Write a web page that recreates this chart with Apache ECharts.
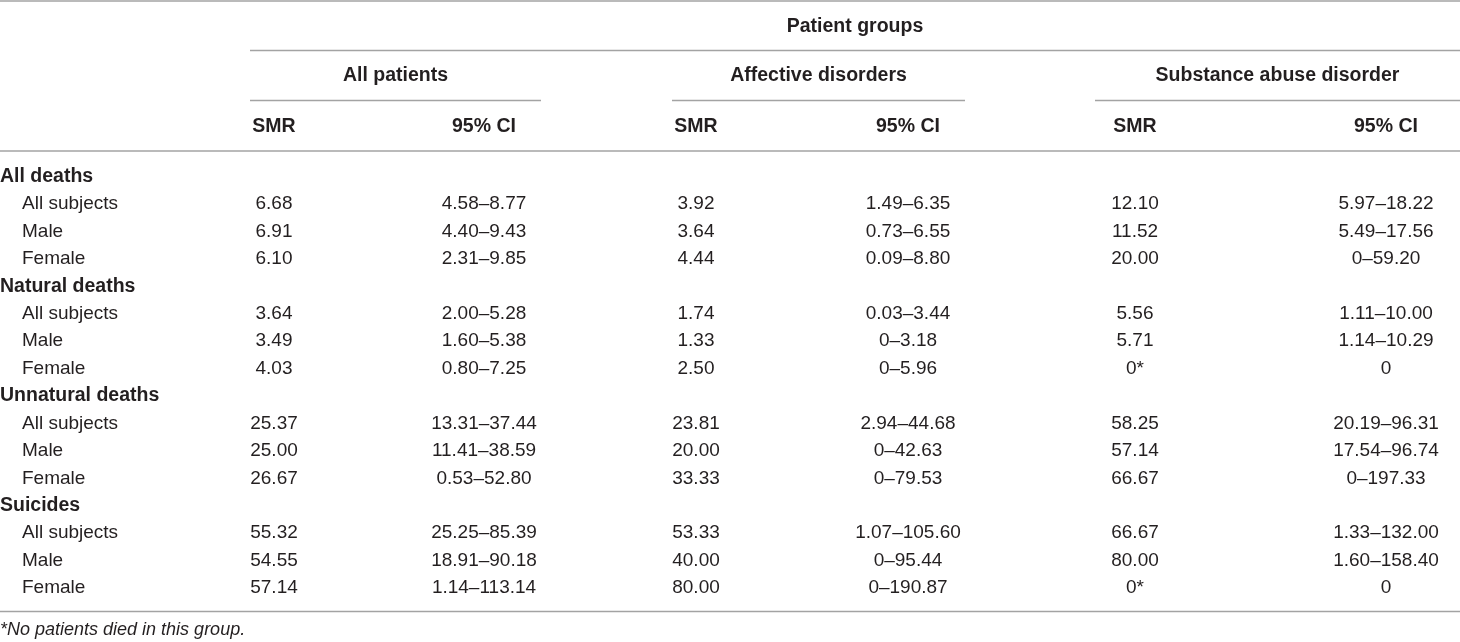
<!DOCTYPE html>
<html>
<head>
<meta charset="utf-8">
<title>SMR by patient group</title>
<script src="https://cdn.jsdelivr.net/npm/echarts@6.0.0/dist/echarts.min.js"></script>
<style>
	html, body { margin: 0; padding: 0; background: #fff; }
	#main { width: 1460px; height: 642px; }
</style>
</head>
<body>
<div id="main"></div>
<script>
// ---- table data ----
var groupTitle = 'Patient groups';
var groups = ['All patients', 'Affective disorders', 'Substance abuse disorder'];
var colHeads = ['SMR', '95% CI'];
var causes = ['All deaths', 'Natural deaths', 'Unnatural deaths', 'Suicides'];
var subjects = ['All subjects', 'Male', 'Female'];
var footnote = '*No patients died in this group.';

// one value per cause x subject row, 0 = nobody died in that group
var smrAll = [6.68, 6.91, 6.10, 3.64, 3.49, 4.03, 25.37, 25.00, 26.67, 55.32, 54.55, 57.14];
var ciAll = [[4.58, 8.77], [4.40, 9.43], [2.31, 9.85], [2.00, 5.28], [1.60, 5.38], [0.80, 7.25],
	[13.31, 37.44], [11.41, 38.59], [0.53, 52.80], [25.25, 85.39], [18.91, 90.18], [1.14, 113.14]];
var smrAffective = [3.92, 3.64, 4.44, 1.74, 1.33, 2.50, 23.81, 20.00, 33.33, 53.33, 40.00, 80.00];
var ciAffective = [[1.49, 6.35], [0.73, 6.55], [0.09, 8.80], [0.03, 3.44], [0, 3.18], [0, 5.96],
	[2.94, 44.68], [0, 42.63], [0, 79.53], [1.07, 105.60], [0, 95.44], [0, 190.87]];
var smrSubstance = [12.10, 11.52, 20.00, 5.56, 5.71, 0, 58.25, 57.14, 66.67, 66.67, 80.00, 0];
var ciSubstance = [[5.97, 18.22], [5.49, 17.56], [0, 59.20], [1.11, 10.00], [1.14, 10.29], [0, 0],
	[20.19, 96.31], [17.54, 96.74], [0, 197.33], [1.33, 132.00], [1.60, 158.40], [0, 0]];

var smrByGroup = [smrAll, smrAffective, smrSubstance];
var ciByGroup = [ciAll, ciAffective, ciSubstance];

// ---- layout (axis units = page pixels) ----
var W = 1460, H = 642;
var ROW0 = 176.7, ROW_H = 27.42;
var LABEL_X = 0, SUB_X = 22;
var cols = [
	{ smr: 274, ci: 484, x0: 250, x1: 541 },
	{ smr: 696, ci: 908, x0: 672, x1: 965 },
	{ smr: 1135, ci: 1386, x0: 1095, x1: 1460 }
];
var Y_TITLE = 27, Y_GROUP = 76, Y_HEAD = 127, Y_NOTE = 630;
var FONT = '"Liberation Sans", Arial, sans-serif';
var INK = '#231f20';

function fmt(v) {
	return v === 0 ? '0' : v.toFixed(2);
}
function fmtSmr(v) {
	return v === 0 ? '0*' : v.toFixed(2);
}
function fmtCi(c) {
	if(c[1] === 0) return '0';
	return fmt(c[0]) + '\u2013' + fmt(c[1]);
}
function rowY(i) {
	return ROW0 + i * ROW_H;
}

// build the text items of each style
var boldPts = [], boldTxt = [], boldAlign = [];
var plainPts = [], plainTxt = [], plainAlign = [];

boldPts.push([(cols[0].x0 + W) / 2, Y_TITLE]); boldTxt.push(groupTitle); boldAlign.push('center');
for(var g = 0; g < groups.length; g++) {
	boldPts.push([(cols[g].x0 + cols[g].x1) / 2, Y_GROUP]); boldTxt.push(groups[g]); boldAlign.push('center');
	boldPts.push([cols[g].smr, Y_HEAD]); boldTxt.push(colHeads[0]); boldAlign.push('center');
	boldPts.push([cols[g].ci, Y_HEAD]); boldTxt.push(colHeads[1]); boldAlign.push('center');
}

var row = 0;
for(var k = 0; k < causes.length; k++) {
	boldPts.push([LABEL_X, rowY(row)]); boldTxt.push(causes[k]); boldAlign.push('left');
	row++;
	for(var j = 0; j < subjects.length; j++) {
		var idx = k * subjects.length + j;
		plainPts.push([SUB_X, rowY(row)]); plainTxt.push(subjects[j]); plainAlign.push('left');
		for(var g2 = 0; g2 < groups.length; g2++) {
			plainPts.push([cols[g2].smr, rowY(row)]); plainTxt.push(fmtSmr(smrByGroup[g2][idx])); plainAlign.push('center');
			plainPts.push([cols[g2].ci, rowY(row)]); plainTxt.push(fmtCi(ciByGroup[g2][idx])); plainAlign.push('center');
		}
		row++;
	}
}

// horizontal rules: [x from, x to, y]
var rules = [[0, W, 1], [cols[0].x0, W, 50.5], [0, W, 151], [0, W, 611.5]];
for(var g3 = 0; g3 < cols.length; g3++) {
	rules.push([cols[g3].x0, cols[g3].x1, 100.5]);
}

function textSeries(name, pts, texts, aligns, font) {
	return {
		type: 'custom',
		name: name,
		coordinateSystem: 'cartesian2d',
		silent: true,
		data: pts,
		renderItem: function(params, api) {
			var p = api.coord([api.value(0), api.value(1)]);
			return {
				type: 'text',
				style: {
					x: p[0],
					y: p[1],
					text: texts[params.dataIndex],
					align: aligns[params.dataIndex],
					verticalAlign: 'middle',
					font: font,
					fill: INK
				}
			};
		}
	};
}

var chart = echarts.init(document.getElementById('main'), null, { renderer: 'canvas' });
chart.setOption({
	backgroundColor: '#fff',
	animation: false,
	grid: { left: 0, right: 0, top: 0, bottom: 0 },
	xAxis: { type: 'value', min: 0, max: W, show: false },
	yAxis: { type: 'value', min: 0, max: H, inverse: true, show: false },
	series: [
		{
			type: 'custom',
			name: 'rules',
			coordinateSystem: 'cartesian2d',
			silent: true,
			encode: { x: [0, 1], y: 2 },
			data: rules,
			renderItem: function(params, api) {
				var a = api.coord([api.value(0), api.value(2)]);
				var b = api.coord([api.value(1), api.value(2)]);
				return {
					type: 'line',
					shape: { x1: a[0], y1: a[1], x2: b[0], y2: b[1] },
					style: { stroke: '#a3a3a3', lineWidth: 1.5 }
				};
			}
		},
		textSeries('headers', boldPts, boldTxt, boldAlign, 'bold 19.5px ' + FONT),
		textSeries('cells', plainPts, plainTxt, plainAlign, '19px ' + FONT),
		textSeries('note', [[LABEL_X, Y_NOTE]], [footnote], ['left'], 'italic 18px ' + FONT)
	]
});
</script>
</body>
</html>
